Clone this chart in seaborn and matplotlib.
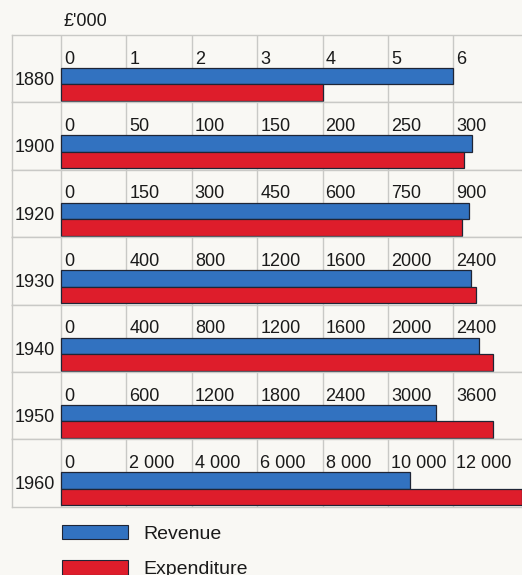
import pandas as pd
import numpy as np
import matplotlib
matplotlib.use('Agg')
import matplotlib.pyplot as plt
import matplotlib.transforms as mtransforms
from matplotlib.patches import Patch
import seaborn as sns

# values in £'000
years = ['1880', '1900', '1920', '1930', '1940', '1950', '1960']
revenue = [6, 314, 936, 2505, 2560, 3440, 10680]
expenditure = [4, 308, 920, 2540, 2645, 3960, 14100]
steps = [1, 50, 150, 400, 400, 600, 2000]
tick_labels = [
    ['0', '1', '2', '3', '4', '5', '6'],
    ['0', '50', '100', '150', '200', '250', '300'],
    ['0', '150', '300', '450', '600', '750', '900'],
    ['0', '400', '800', '1200', '1600', '2000', '2400'],
    ['0', '400', '800', '1200', '1600', '2000', '2400'],
    ['0', '600', '1200', '1800', '2400', '3000', '3600'],
    ['0', '2 000', '4 000', '6 000', '8 000', '10 000', '12 000'],
]
series = ['Revenue', 'Expenditure']

df = pd.DataFrame({
    'Year': years * 2,
    'Series': ['Revenue'] * len(years) + ['Expenditure'] * len(years),
    'Value': revenue + expenditure,
})

sns.set_style('white')
plt.rcParams['font.family'] = ['Liberation Sans', 'DejaVu Sans']

blue = '#3272c0'
red = '#de1d2b'
edge = '#1f2535'
gridc = '#c9c9c6'
bg = '#f9f8f4'
txt = '#1a1a1a'
fs = 13

W, H = 522, 575
fig = plt.figure(figsize=(W / 100, H / 100), dpi=100, facecolor=bg)

top0, rh = 35, 67.4
for i, yr in enumerate(years):
    ax = fig.add_axes([12 / W, 1 - (top0 + (i + 1) * rh) / H, 510 / W, rh / H])
    ax.set_facecolor(bg)
    sub = df[df['Year'] == yr]
    sns.barplot(data=sub, x='Value', y='Year', hue='Series', hue_order=series,
                palette=[blue, red], saturation=1, orient='h', errorbar=None,
                width=0.8, edgecolor=edge, linewidth=0.9, legend=False, ax=ax)
    step = steps[i]
    ax.set_xlim(-0.749 * step, 7.05 * step)
    ax.set_ylim(0.434, -1.2)
    ax.set_xticks(np.arange(7) * step)
    ax.set_xticklabels(tick_labels[i])
    ax.tick_params(axis='x', top=True, labeltop=True, bottom=False,
                   labelbottom=False, length=0, pad=-23.5, labelsize=fs,
                   labelcolor=txt)
    offset = mtransforms.ScaledTranslation(3 / 100, 0, fig.dpi_scale_trans)
    for lab in ax.get_xticklabels():
        lab.set_horizontalalignment('left')
        lab.set_transform(lab.get_transform() + offset)
    ax.tick_params(axis='y', length=0, pad=-31, labelsize=fs, labelcolor=txt)
    up = mtransforms.ScaledTranslation(0, 6 / 100, fig.dpi_scale_trans)
    for lab in ax.get_yticklabels():
        lab.set_transform(lab.get_transform() + up)
    ax.grid(axis='x', color=gridc, linewidth=1)
    ax.set_axisbelow(True)
    ax.set_xlabel('')
    ax.set_ylabel('')
    ax.spines['right'].set_visible(False)
    for s in ['left', 'top', 'bottom']:
        ax.spines[s].set_color(gridc)
        ax.spines[s].set_linewidth(1)

fig.text(63 / W, 1 - 13 / H, "£'000", ha='left', va='top', fontsize=fs, color=txt)

handles = [Patch(facecolor=blue, edgecolor=edge, linewidth=0.8),
           Patch(facecolor=red, edgecolor=edge, linewidth=0.8)]
fig.legend(handles=handles, labels=series, loc='upper left',
           bbox_to_anchor=(62 / W, 1 - 525 / H), frameon=False,
           handlelength=3.4, handleheight=0.75, handletextpad=0.8,
           labelspacing=0.9, borderpad=0, borderaxespad=0, fontsize=14,
           labelcolor=txt)

fig.savefig('out.png', dpi=100, facecolor=bg)
